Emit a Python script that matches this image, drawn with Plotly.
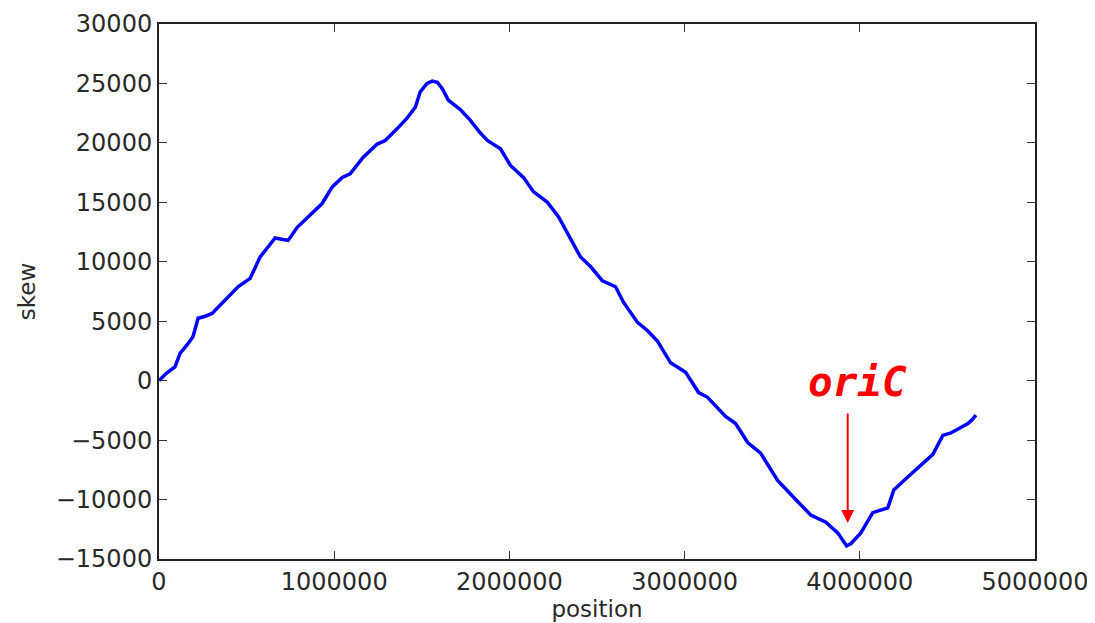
import plotly.graph_objects as go

position = [0, 40000, 91000, 120000, 160000, 194000, 223000, 260000, 303000, 366000, 451000, 520000,
            577000, 620000, 663000, 700000, 737000, 789000, 880000, 931000, 989000, 1046000, 1091000,
            1166000, 1246000, 1291000, 1360000, 1417000, 1463000, 1491000, 1530000, 1560000, 1589000,
            1620000, 1651000, 1720000, 1777000, 1830000, 1874000, 1949000, 2006000, 2080000, 2137000,
            2217000, 2280000, 2331000, 2406000, 2463000, 2531000, 2606000, 2651000, 2731000, 2789000,
            2846000, 2920000, 3006000, 3080000, 3131000, 3234000, 3291000, 3360000, 3434000, 3531000,
            3634000, 3720000, 3806000, 3874000, 3925000, 3950000, 4006000, 4074000, 4160000, 4194000,
            4274000, 4366000, 4417000, 4474000, 4520000, 4617000, 4640000, 4663000]
skew = [0, 600, 1150, 2300, 3000, 3700, 5250, 5400, 5650, 6600, 7900, 8600,
        10400, 11200, 12000, 11900, 11800, 12900, 14200, 14900, 16300, 17100, 17400,
        18800, 19900, 20200, 21200, 22100, 23000, 24300, 25000, 25200, 25100,
        24500, 23600, 22800, 21900, 20900, 20200, 19500, 18100, 17100, 15900,
        15000, 13800, 12400, 10400, 9600, 8400, 7900, 6600, 4900, 4200,
        3300, 1500, 700, -1000, -1400, -3000, -3600, -5200, -6100, -8400,
        -10000, -11300, -11900, -12800, -13900, -13700, -12800, -11100, -10700, -9200,
        -8100, -6900, -6200, -4600, -4400, -3600, -3300, -2900]

x_ticks = [0, 1000000, 2000000, 3000000, 4000000, 5000000]
y_ticks = [-15000, -10000, -5000, 0, 5000, 10000, 15000, 20000, 25000, 30000]

ori_x = 3931000
ori_tip_y = -11970
ori_tail_y = -2630
ori_text_x = 3989000
ori_text_y = -100

fig = go.Figure()
fig.add_trace(go.Scatter(x=position, y=skew, mode="lines",
                         line=dict(color="#0000ff", width=3.5), showlegend=False))

axis_font = dict(family="DejaVu Sans", size=24, color="#2a2a2a")
title_font = dict(family="DejaVu Sans", size=23, color="#2a2a2a")
fig.update_xaxes(range=[0, 5000000], tickvals=x_ticks, ticktext=[str(v) for v in x_ticks],
                 ticks="inside", ticklen=8, tickcolor="#333", tickwidth=1.2,
                 showline=True, linecolor="#222", linewidth=2, mirror="ticks",
                 showgrid=False, zeroline=False, tickfont=axis_font, automargin=False,
                 title=dict(text="position", font=title_font, standoff=6))
fig.update_yaxes(range=[-15000, 30000], tickvals=y_ticks,
                 ticktext=[str(v).replace("-", "\u2212") for v in y_ticks],
                 ticks="inside", ticklen=8, tickcolor="#333", tickwidth=1.2,
                 showline=True, linecolor="#222", linewidth=2, mirror="ticks",
                 showgrid=False, zeroline=False, tickfont=axis_font, automargin=False,
                 title=dict(text="skew", font=title_font, standoff=14))

fig.add_annotation(x=ori_x, y=ori_tip_y, ax=ori_x, ay=ori_tail_y, axref="x", ayref="y",
                   xref="x", yref="y", text="", showarrow=True, arrowhead=2,
                   arrowsize=1.3, arrowwidth=2, arrowcolor="#ff0000")
fig.add_annotation(x=ori_text_x, y=ori_text_y, xref="x", yref="y", text="<b><i>oriC</i></b>",
                   showarrow=False,
                   font=dict(family="DejaVu Sans Mono", size=41, color="#ff0000"))

fig.update_layout(width=1095, height=623, plot_bgcolor="white", paper_bgcolor="white",
                  margin=dict(l=151, r=68, t=16, b=72))
fig.write_html("out.html")
